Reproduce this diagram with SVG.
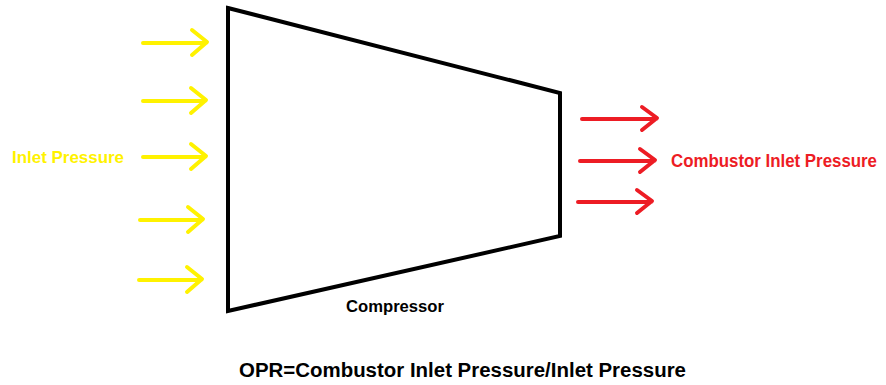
<svg xmlns="http://www.w3.org/2000/svg" width="886" height="385" viewBox="0 0 886 385">
<style>
.y{stroke:#FFF200;stroke-width:4;fill:none;stroke-linecap:round;stroke-linejoin:round}
.r{stroke:#ED1C24;stroke-width:4;fill:none;stroke-linecap:round;stroke-linejoin:round}
.t{font-family:"Liberation Sans",Arial,sans-serif;font-weight:bold}
</style>
<rect width="886" height="385" fill="#fff"/>
<g id="compressor">
<polygon points="228,8 560,93 560,236 228,311" fill="none" stroke="#000" stroke-width="4" stroke-linejoin="miter"/>
<text class="t" x="346" y="312" font-size="16.5" textLength="98" lengthAdjust="spacingAndGlyphs" fill="#000">Compressor</text>
</g>
<g id="inlet">
<text class="t" x="12" y="163" font-size="17" textLength="112" lengthAdjust="spacingAndGlyphs" fill="#FFF200">Inlet Pressure</text>
</g>
<g id="combustor">
<text class="t" x="671" y="166.5" font-size="17.5" textLength="206" lengthAdjust="spacingAndGlyphs" fill="#ED1C24">Combustor Inlet Pressure</text>
</g>
<g id="connectors">
<path class="y" d="M143,43 H206 M192,30 L207,42 L192,55"/>
<path class="y" d="M143,101 H205 M191,88 L206,100 L191,113"/>
<path class="y" d="M143,157 H205 M191,144 L206,156 L191,169"/>
<path class="y" d="M140,220 H202 M188,207 L203,219 L188,232"/>
<path class="y" d="M139,280 H201 M187,267 L202,279 L187,292"/>
<path class="r" d="M582,119 H656 M642,107 L657,118 L642,130"/>
<path class="r" d="M580,161 H654 M640,149 L655,160 L640,172"/>
<path class="r" d="M578,202 H651 M637,190 L652,201 L637,213"/>
</g>
<g id="formula">
<text class="t" x="239" y="377" font-size="19.5" textLength="447" lengthAdjust="spacingAndGlyphs" fill="#000">OPR=Combustor Inlet Pressure/Inlet Pressure</text>
</g>
</svg>
